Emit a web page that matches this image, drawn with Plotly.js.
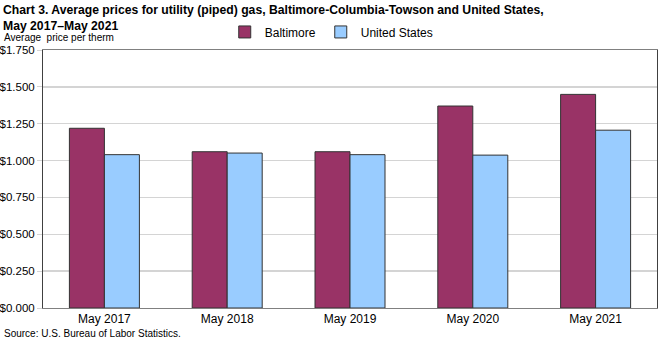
<!DOCTYPE html>
<html><head><meta charset="utf-8">
<script src="https://cdn.plot.ly/plotly-3.0.1.min.js"></script>
<style>html,body{margin:0;padding:0;background:#fff}#chart{width:670px;height:340px}</style>
</head><body><div id="chart"></div>
<script>
const categories = ["May 2017", "May 2018", "May 2019", "May 2020", "May 2021"];
const baltimore = [1.219, 1.060, 1.060, 1.370, 1.449];
const unitedStates = [1.040, 1.051, 1.040, 1.037, 1.206];
const yTicks = [0, 0.25, 0.5, 0.75, 1.0, 1.25, 1.5, 1.75];
const yTickText = ["$0.000", "$0.250", "$0.500", "$0.750", "$1.000", "$1.250", "$1.500", "$1.750"];

const font = "Liberation Sans, Arial, sans-serif";
const traces = [
  {type: "bar", name: "Baltimore", x: categories, y: baltimore,
   marker: {color: "#993366", line: {color: "#333333", width: 1}}},
  {type: "bar", name: "United States", x: categories, y: unitedStates,
   marker: {color: "#99CCFF", line: {color: "#333333", width: 1}}}
];
const layout = {
  width: 670, height: 340,
  margin: {l: 43, r: 13, t: 50, b: 32.4},
  paper_bgcolor: "#fff", plot_bgcolor: "#fff",
  font: {family: font, size: 11, color: "#000"},
  barmode: "group", bargap: 0.43, bargroupgap: 0,
  xaxis: {showline: true, linecolor: "#808080", linewidth: 1, mirror: true,
    ticks: "", tickfont: {size: 12}, fixedrange: true},
  yaxis: {range: [0, 1.75], tickvals: yTicks, ticktext: yTickText,
    showline: true, linecolor: "#404040", linewidth: 1, mirror: true,
    gridcolor: "#d4d4d4", gridwidth: 1.5, ticks: "outside", ticklen: 5, tickcolor: "#d4d4d4",
    tickfont: {size: 11.5}, zeroline: false},
  legend: {orientation: "h", x: 0.296, xanchor: "left", y: 1.07, yanchor: "middle",
    font: {size: 12}, itemwidth: 30, traceorder: "normal"},
  showlegend: true,
  annotations: [
    {text: "<b>Chart 3. Average prices for utility (piped) gas, Baltimore-Columbia-Towson and United States,</b>",
     xref: "paper", yref: "paper", x: -0.068, y: 1.156, xanchor: "left", yanchor: "middle", align: "left",
     showarrow: false, font: {size: 12.2}},
    {text: "<b>May 2017\u2013May 2021</b>",
     xref: "paper", yref: "paper", x: -0.068, y: 1.094, xanchor: "left", yanchor: "middle", align: "left",
     showarrow: false, font: {size: 12.2}},
    {text: "Average  price per therm", xref: "paper", yref: "paper", x: -0.066, y: 1.05,
     xanchor: "left", yanchor: "middle", showarrow: false, font: {size: 10}},
    {text: "Source: U.S. Bureau of Labor Statistics.", xref: "paper", yref: "paper", x: -0.066, y: -0.098,
     xanchor: "left", yanchor: "middle", showarrow: false, font: {size: 10}}
  ]
};
Plotly.newPlot("chart", traces, layout, {displayModeBar: false, staticPlot: true});
</script></body></html>
